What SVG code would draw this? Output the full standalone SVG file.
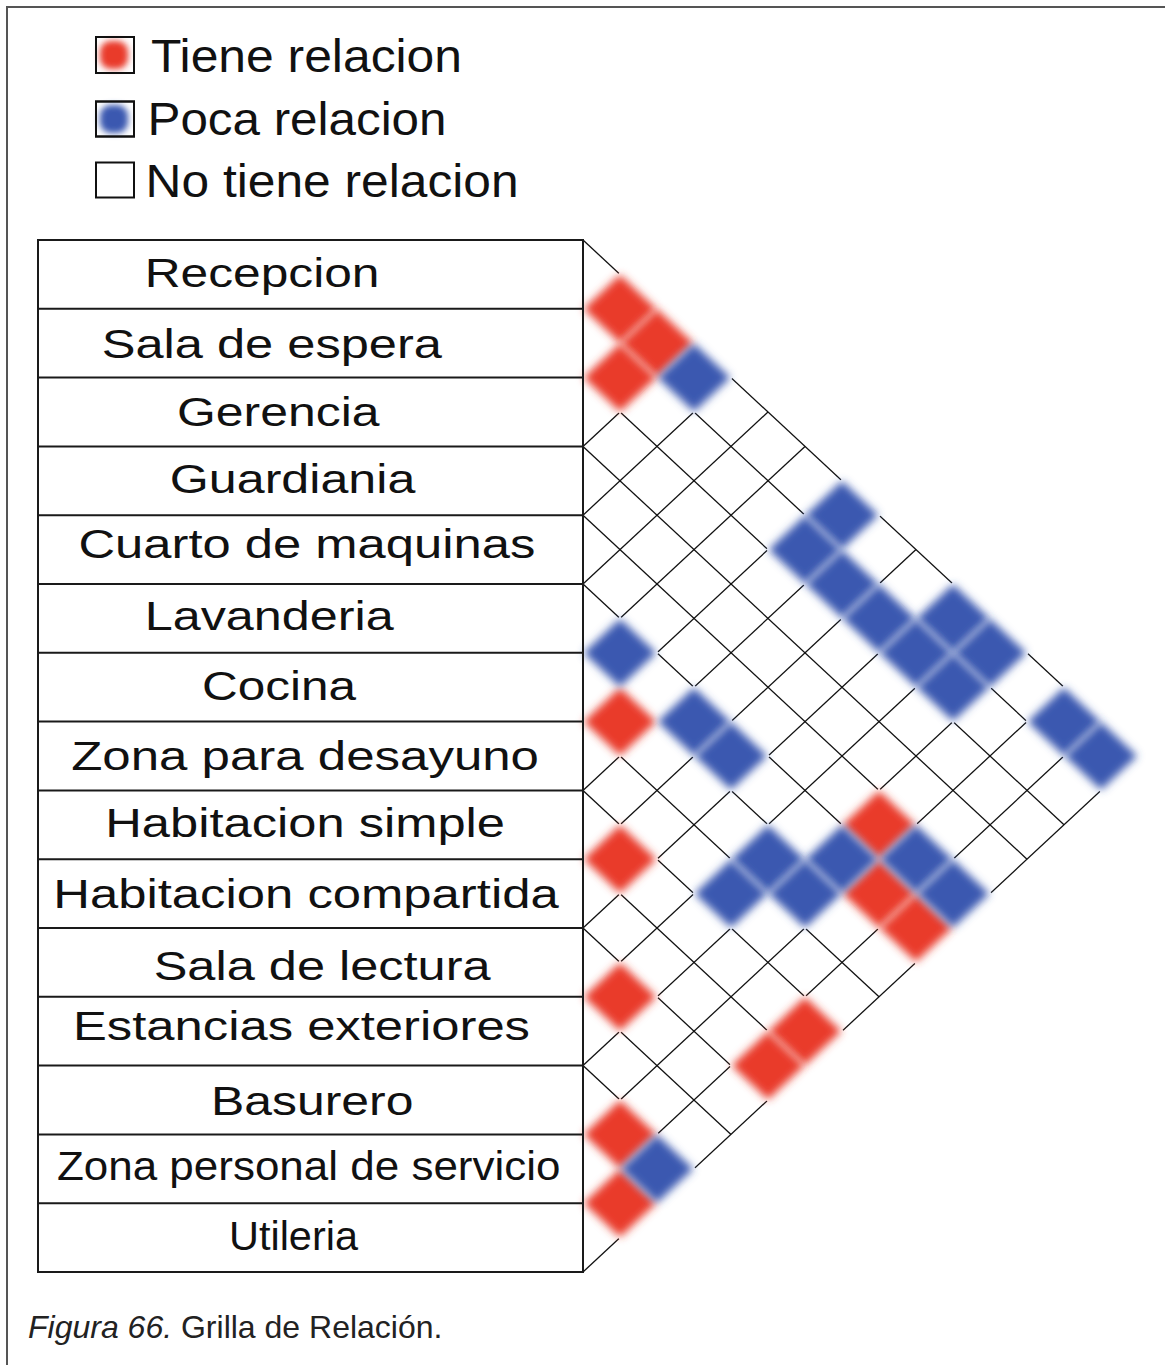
<svg xmlns="http://www.w3.org/2000/svg" xmlns:xlink="http://www.w3.org/1999/xlink" width="1165" height="1365" viewBox="0 0 1165 1365">
<style>
.lbl{font-family:"Liberation Sans",Arial,sans-serif;font-size:41px;fill:#111}
.leg{font-family:"Liberation Sans",Arial,sans-serif;font-size:46px;fill:#111}
.cap{font-family:"Liberation Sans",Arial,sans-serif;font-size:32px;fill:#222}
.tbl{fill:none;stroke:#1a1a1a;stroke-width:2}
.grid line{stroke:#111;stroke-width:1.3}
.frame{stroke:#555;stroke-width:2}
</style>
<defs>
<filter id="blur" x="-40%" y="-40%" width="180%" height="180%"><feGaussianBlur stdDeviation="4.2"/></filter>
<filter id="blur2" x="-50%" y="-50%" width="200%" height="200%"><feGaussianBlur stdDeviation="3"/></filter>
<path id="halo" d="M-39,0 L0,-36.5 L39,0 L0,36.5 Z" fill="#fff"/>
<path id="rd" d="M-34,0 L0,-32 L34,0 L0,32 Z" fill="#e93a2c" stroke="#e93a2c" stroke-width="3" stroke-linejoin="round" filter="url(#blur)"/>
<path id="bl" d="M-34,0 L0,-32 L34,0 L0,32 Z" fill="#3a58b0" stroke="#3a58b0" stroke-width="3" stroke-linejoin="round" filter="url(#blur)"/>
</defs>
<rect width="1165" height="1365" fill="#fff"/>
<line class="frame" x1="6" y1="7" x2="1165" y2="7"/>
<line class="frame" x1="7" y1="6" x2="7" y2="1365"/>

<g id="legend">
<g id="leg-tiene">
<rect x="96" y="37" width="38" height="36" fill="#fff" stroke="#111" stroke-width="2"/>
<rect x="100" y="41" width="28" height="28" rx="11" fill="#e93a2c" filter="url(#blur2)"/>
<rect x="96" y="37" width="38" height="36" fill="none" stroke="#111" stroke-width="2"/>
<text class="leg" x="151" y="71.7" textLength="311" lengthAdjust="spacingAndGlyphs">Tiene relacion</text>
</g>
<g id="leg-poca">
<rect x="96" y="101.5" width="38" height="35" fill="#fff" stroke="#111" stroke-width="2"/>
<rect x="100" y="105" width="28" height="28" rx="11" fill="#3a58b0" filter="url(#blur2)"/>
<rect x="96" y="101.5" width="38" height="35" fill="none" stroke="#111" stroke-width="2"/>
<text class="leg" x="147.5" y="135" textLength="299" lengthAdjust="spacingAndGlyphs">Poca relacion</text>
</g>
<g id="leg-no">
<rect x="96" y="162.5" width="38" height="35" fill="#fff" stroke="#111" stroke-width="2"/>
<text class="leg" x="145.6" y="196.7" textLength="373" lengthAdjust="spacingAndGlyphs">No tiene relacion</text>
</g>
</g>

<g id="connectors" class="grid">
<line x1="583" y1="240" x2="1138" y2="756"/>
<line x1="583" y1="308.8" x2="1101" y2="790.4"/>
<line x1="583" y1="377.6" x2="1064" y2="824.8"/>
<line x1="583" y1="446.4" x2="1027" y2="859.2"/>
<line x1="583" y1="515.2" x2="990" y2="893.6"/>
<line x1="583" y1="584" x2="953" y2="928"/>
<line x1="583" y1="652.8" x2="916" y2="962.4"/>
<line x1="583" y1="721.6" x2="879" y2="996.8"/>
<line x1="583" y1="790.4" x2="842" y2="1031.2"/>
<line x1="583" y1="859.2" x2="805" y2="1065.6"/>
<line x1="583" y1="928" x2="768" y2="1100"/>
<line x1="583" y1="996.8" x2="731" y2="1134.4"/>
<line x1="583" y1="1065.6" x2="694" y2="1168.8"/>
<line x1="583" y1="1134.4" x2="657" y2="1203.2"/>
<line x1="583" y1="1203.2" x2="620" y2="1237.6"/>
<line x1="583" y1="308.8" x2="620" y2="274.4"/>
<line x1="583" y1="377.6" x2="657" y2="308.8"/>
<line x1="583" y1="446.4" x2="694" y2="343.2"/>
<line x1="583" y1="515.2" x2="731" y2="377.6"/>
<line x1="583" y1="584" x2="768" y2="412"/>
<line x1="583" y1="652.8" x2="805" y2="446.4"/>
<line x1="583" y1="721.6" x2="842" y2="480.8"/>
<line x1="583" y1="790.4" x2="879" y2="515.2"/>
<line x1="583" y1="859.2" x2="916" y2="549.6"/>
<line x1="583" y1="928" x2="953" y2="584"/>
<line x1="583" y1="996.8" x2="990" y2="618.4"/>
<line x1="583" y1="1065.6" x2="1027" y2="652.8"/>
<line x1="583" y1="1134.4" x2="1064" y2="687.2"/>
<line x1="583" y1="1203.2" x2="1101" y2="721.6"/>
<line x1="583" y1="1272" x2="1138" y2="756"/>
</g>

<g id="halos">
<use xlink:href="#halo" x="620" y="308.8"/>
<use xlink:href="#halo" x="657" y="343.2"/>
<use xlink:href="#halo" x="620" y="377.6"/>
<use xlink:href="#halo" x="620" y="721.6"/>
<use xlink:href="#halo" x="879" y="824.8"/>
<use xlink:href="#halo" x="620" y="859.2"/>
<use xlink:href="#halo" x="879" y="893.6"/>
<use xlink:href="#halo" x="916" y="928"/>
<use xlink:href="#halo" x="620" y="996.8"/>
<use xlink:href="#halo" x="805" y="1031.2"/>
<use xlink:href="#halo" x="768" y="1065.6"/>
<use xlink:href="#halo" x="620" y="1134.4"/>
<use xlink:href="#halo" x="620" y="1203.2"/>
<use xlink:href="#halo" x="694" y="377.6"/>
<use xlink:href="#halo" x="842" y="515.2"/>
<use xlink:href="#halo" x="805" y="549.6"/>
<use xlink:href="#halo" x="842" y="584"/>
<use xlink:href="#halo" x="879" y="618.4"/>
<use xlink:href="#halo" x="953" y="618.4"/>
<use xlink:href="#halo" x="916" y="652.8"/>
<use xlink:href="#halo" x="990" y="652.8"/>
<use xlink:href="#halo" x="953" y="687.2"/>
<use xlink:href="#halo" x="620" y="652.8"/>
<use xlink:href="#halo" x="694" y="721.6"/>
<use xlink:href="#halo" x="731" y="756"/>
<use xlink:href="#halo" x="1064" y="721.6"/>
<use xlink:href="#halo" x="1101" y="756"/>
<use xlink:href="#halo" x="768" y="859.2"/>
<use xlink:href="#halo" x="842" y="859.2"/>
<use xlink:href="#halo" x="916" y="859.2"/>
<use xlink:href="#halo" x="731" y="893.6"/>
<use xlink:href="#halo" x="805" y="893.6"/>
<use xlink:href="#halo" x="953" y="893.6"/>
<use xlink:href="#halo" x="657" y="1168.8"/>
</g>

<g id="cells-red">
<use xlink:href="#rd" x="620" y="308.8"/>
<use xlink:href="#rd" x="657" y="343.2"/>
<use xlink:href="#rd" x="620" y="377.6"/>
<use xlink:href="#rd" x="620" y="721.6"/>
<use xlink:href="#rd" x="879" y="824.8"/>
<use xlink:href="#rd" x="620" y="859.2"/>
<use xlink:href="#rd" x="879" y="893.6"/>
<use xlink:href="#rd" x="916" y="928"/>
<use xlink:href="#rd" x="620" y="996.8"/>
<use xlink:href="#rd" x="805" y="1031.2"/>
<use xlink:href="#rd" x="768" y="1065.6"/>
<use xlink:href="#rd" x="620" y="1134.4"/>
<use xlink:href="#rd" x="620" y="1203.2"/>
</g>
<g id="cells-blue">
<use xlink:href="#bl" x="694" y="377.6"/>
<use xlink:href="#bl" x="842" y="515.2"/>
<use xlink:href="#bl" x="805" y="549.6"/>
<use xlink:href="#bl" x="842" y="584"/>
<use xlink:href="#bl" x="879" y="618.4"/>
<use xlink:href="#bl" x="953" y="618.4"/>
<use xlink:href="#bl" x="916" y="652.8"/>
<use xlink:href="#bl" x="990" y="652.8"/>
<use xlink:href="#bl" x="953" y="687.2"/>
<use xlink:href="#bl" x="620" y="652.8"/>
<use xlink:href="#bl" x="694" y="721.6"/>
<use xlink:href="#bl" x="731" y="756"/>
<use xlink:href="#bl" x="1064" y="721.6"/>
<use xlink:href="#bl" x="1101" y="756"/>
<use xlink:href="#bl" x="768" y="859.2"/>
<use xlink:href="#bl" x="842" y="859.2"/>
<use xlink:href="#bl" x="916" y="859.2"/>
<use xlink:href="#bl" x="731" y="893.6"/>
<use xlink:href="#bl" x="805" y="893.6"/>
<use xlink:href="#bl" x="953" y="893.6"/>
<use xlink:href="#bl" x="657" y="1168.8"/>
</g>

<g id="table">
<rect class="tbl" x="38" y="240" width="545" height="1032"/>
<path class="tbl" d="M38,308.8H583M38,377.6H583M38,446.4H583M38,515.2H583M38,584H583M38,652.8H583M38,721.6H583M38,790.4H583M38,859.2H583M38,928H583M38,996.8H583M38,1065.6H583M38,1134.4H583M38,1203.2H583"/>
<g id="row-recepcion"><text class="lbl" x="144.7" y="286.7" textLength="234.8" lengthAdjust="spacingAndGlyphs">Recepcion</text></g>
<g id="row-sala-espera"><text class="lbl" x="101.7" y="358.3" textLength="340.3" lengthAdjust="spacingAndGlyphs">Sala de espera</text></g>
<g id="row-gerencia"><text class="lbl" x="177" y="425.7" textLength="202.5" lengthAdjust="spacingAndGlyphs">Gerencia</text></g>
<g id="row-guardiania"><text class="lbl" x="169.8" y="493.3" textLength="245.5" lengthAdjust="spacingAndGlyphs">Guardiania</text></g>
<g id="row-cuarto-maquinas"><text class="lbl" x="78.4" y="558.3" textLength="457" lengthAdjust="spacingAndGlyphs">Cuarto de maquinas</text></g>
<g id="row-lavanderia"><text class="lbl" x="144.7" y="630" textLength="249.1" lengthAdjust="spacingAndGlyphs">Lavanderia</text></g>
<g id="row-cocina"><text class="lbl" x="202" y="700" textLength="154" lengthAdjust="spacingAndGlyphs">Cocina</text></g>
<g id="row-zona-desayuno"><text class="lbl" x="71.2" y="770" textLength="467.8" lengthAdjust="spacingAndGlyphs">Zona para desayuno</text></g>
<g id="row-hab-simple"><text class="lbl" x="105.3" y="836.7" textLength="399.7" lengthAdjust="spacingAndGlyphs">Habitacion simple</text></g>
<g id="row-hab-compartida"><text class="lbl" x="53.3" y="908.3" textLength="505.4" lengthAdjust="spacingAndGlyphs">Habitacion compartida</text></g>
<g id="row-sala-lectura"><text class="lbl" x="153.7" y="980" textLength="336.9" lengthAdjust="spacingAndGlyphs">Sala de lectura</text></g>
<g id="row-estancias"><text class="lbl" x="73" y="1040" textLength="457" lengthAdjust="spacingAndGlyphs">Estancias exteriores</text></g>
<g id="row-basurero"><text class="lbl" x="211" y="1115" textLength="202.5" lengthAdjust="spacingAndGlyphs">Basurero</text></g>
<g id="row-zona-personal"><text class="lbl" x="56.9" y="1180" textLength="503.6" lengthAdjust="spacingAndGlyphs">Zona personal de servicio</text></g>
<g id="row-utileria"><text class="lbl" x="229" y="1250" textLength="129" lengthAdjust="spacingAndGlyphs">Utileria</text></g>
</g>

<g id="caption">
<text class="cap" x="28" y="1338"><tspan font-style="italic">Figura 66.</tspan> Grilla de Relación.</text>
</g>
</svg>
